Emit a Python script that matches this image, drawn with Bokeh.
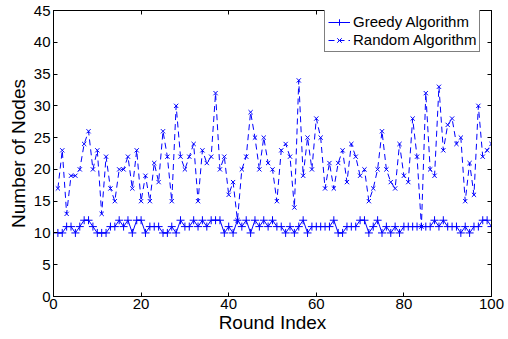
from bokeh.plotting import figure
from bokeh.models import LinearAxis, FixedTicker, Range1d, Legend, LegendItem
from bokeh.embed import file_html
from bokeh.resources import INLINE

rounds = list(range(1, 101))
greedy = [10, 10, 11, 11, 10, 11, 12, 12, 11, 10, 10, 10, 11, 11, 12, 11, 12, 10, 12, 12,
          10, 11, 11, 11, 10, 10, 11, 10, 12, 11, 11, 12, 11, 12, 11, 12, 12, 12, 10, 11,
          10, 12, 11, 12, 10, 12, 11, 12, 11, 12, 11, 11, 10, 11, 10, 11, 12, 10, 11, 11,
          11, 11, 11, 12, 10, 10, 11, 11, 11, 12, 12, 10, 11, 12, 10, 11, 10, 11, 10, 11,
          11, 11, 11, 11, 11, 11, 12, 11, 12, 11, 11, 11, 10, 11, 10, 11, 11, 12, 12, 11]
random_alg = [17, 23, 13, 19, 19, 20, 24, 26, 20, 23, 13, 22, 17, 15, 20, 20, 22, 17, 23, 15,
              19, 15, 21, 18, 26, 22, 15, 30, 22, 20, 22, 24, 15, 23, 21, 22, 32, 20, 22, 16,
              18, 12, 20, 22, 29, 25, 20, 25, 21, 20, 15, 23, 24, 22, 14, 34, 19, 25, 20, 28,
              25, 17, 21, 17, 21, 23, 18, 24, 22, 19, 20, 15, 17, 20, 26, 20, 18, 17, 24, 19,
              18, 28, 22, 11, 32, 20, 19, 33, 23, 27, 28, 24, 25, 15, 21, 16, 30, 22, 23, 24]
x_ticks = [0, 20, 40, 60, 80, 100]
y_ticks = [0, 5, 10, 15, 20, 25, 30, 35, 40, 45]
series_names = ["Greedy Algorithm", "Random Algorithm"]

FONT = "Liberation Sans"
BLUE = "#0000ff"

p = figure(width=508, height=339, output_backend="svg", toolbar_location=None,
           x_range=Range1d(0, 100), y_range=Range1d(0, 45),
           min_border_left=53, min_border_right=17, min_border_top=10, min_border_bottom=43,
           background_fill_color="white", border_fill_color="white")
p.outline_line_color = "black"
p.outline_line_width = 1
p.grid.visible = False

for ax in (p.xaxis[0], p.yaxis[0]):
    ax.major_tick_in = 4
    ax.major_tick_out = 0
    ax.minor_tick_line_color = None
    ax.axis_line_color = "black"
    ax.major_tick_line_color = "black"
    ax.major_label_text_font = FONT
    ax.major_label_text_font_size = "15px"
    ax.major_label_text_color = "black"
    ax.axis_label_text_font = FONT
    ax.axis_label_text_font_size = "19px"
    ax.axis_label_text_font_style = "normal"
    ax.axis_label_text_color = "black"

p.xaxis[0].ticker = FixedTicker(ticks=x_ticks)
p.yaxis[0].ticker = FixedTicker(ticks=y_ticks)
p.xaxis[0].axis_label = "Round Index"
p.yaxis[0].axis_label = "Number of Nodes"
p.xaxis[0].major_label_standoff = 2
p.xaxis[0].axis_label_standoff = 0
p.yaxis[0].major_label_standoff = 3
p.yaxis[0].axis_label_standoff = 2

for loc, ticks in (("right", y_ticks), ("above", x_ticks)):
    ax = LinearAxis(ticker=FixedTicker(ticks=ticks))
    ax.major_tick_in = 4
    ax.major_tick_out = 0
    ax.minor_tick_line_color = None
    ax.major_label_text_font_size = "0px"
    ax.major_label_text_color = None
    ax.major_label_standoff = 0
    ax.axis_line_color = "black"
    ax.major_tick_line_color = "black"
    p.add_layout(ax, loc)

g_line = p.line(rounds, greedy, line_color=BLUE, line_width=1)
g_mark = p.scatter(rounds, greedy, marker="cross", size=8, line_color=BLUE, line_width=1)
r_line = p.line(rounds, random_alg, line_color=BLUE, line_width=1, line_dash="6 4")
r_mark = p.scatter(rounds, random_alg, marker="x", size=6, line_color=BLUE, line_width=1)

legend = Legend(items=[LegendItem(label=series_names[0], renderers=[g_line, g_mark]),
                       LegendItem(label=series_names[1], renderers=[r_line, r_mark])],
                location=(271, 244))
legend.label_text_font = FONT
legend.label_text_font_size = "15px"
legend.label_text_color = "black"
legend.glyph_width = 22
legend.glyph_height = 16
legend.label_height = 16
legend.label_standoff = 3
legend.spacing = 1
legend.padding = 3
legend.margin = 0
legend.border_line_color = "black"
legend.border_line_width = 1
legend.background_fill_color = "white"
legend.background_fill_alpha = 1
p.add_layout(legend, "center")

open("out.html", "w").write(file_html(p, INLINE))
